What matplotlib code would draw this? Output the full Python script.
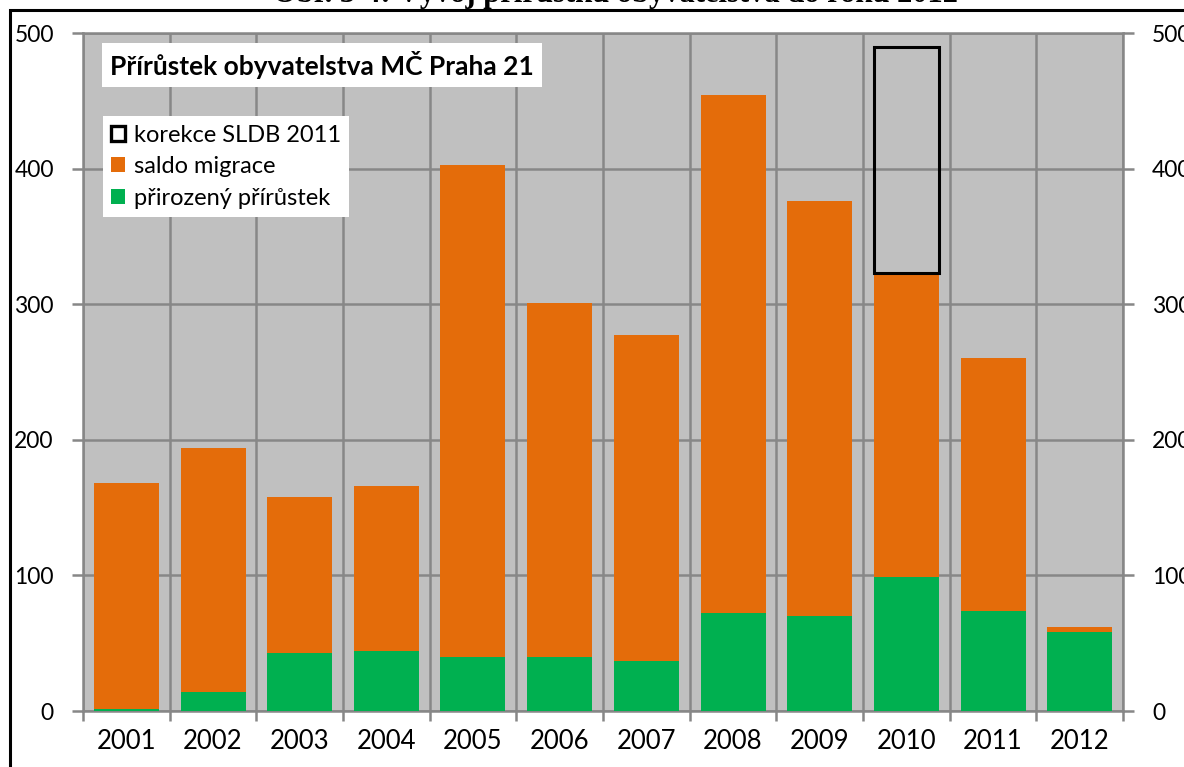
import matplotlib
matplotlib.use("Agg")
import matplotlib.pyplot as plt
from matplotlib.patches import Patch, Rectangle
import numpy as np

years = ["2001", "2002", "2003", "2004", "2005", "2006", "2007", "2008", "2009", "2010", "2011", "2012"]
natural = [1.5, 14, 43, 44, 40, 40, 37, 72, 70, 99, 74, 58]
migration = [167, 180, 115, 122, 363, 261, 240, 382, 306, 224, 186, 4]
correction = [0, 0, 0, 0, 0, 0, 0, 0, 0, 167, 0, 0]
yticks = [0, 100, 200, 300, 400, 500]

ORANGE = "#E46C0A"
GREEN = "#00B050"
GRID = "#878787"
BG = "#C0C0C0"

plt.rcParams['font.family'] = ['Lato', 'DejaVu Sans']

fig = plt.figure(figsize=(11.84, 7.67), dpi=100)
ax = fig.add_axes([83/1184, 1 - 711/767, (1123-83)/1184, (711-33)/767])
ax.set_facecolor(BG)

x = np.arange(len(years))
w = 0.75
nat = np.array(natural)
mig = np.array(migration)
cor = np.array(correction)
ax.bar(x, nat, width=w, color=GREEN, zorder=3)
ax.bar(x, mig, width=w, bottom=nat, color=ORANGE, zorder=3)
mask = cor > 0
ax.bar(x[mask], cor[mask], width=w, bottom=(nat + mig)[mask], facecolor='none',
       edgecolor='black', linewidth=2.2, zorder=4)

ax.set_xlim(-0.5, len(years) - 0.5)
ax.set_ylim(0, 500)
ax.set_yticks(yticks)
ax.set_xticks(x)
ax.set_xticklabels(years, fontsize=18.5)
ax.set_xticks(np.arange(-0.5, len(years), 1.0), minor=True)
ax.tick_params(axis='x', which='major', length=0, pad=13)
ax.tick_params(axis='x', which='minor', length=7, width=1.8, color=GRID, direction='out')
ax.tick_params(axis='y', which='major', length=8, width=1.8, color=GRID, direction='out',
               labelsize=16.5, left=True, right=True, labelleft=True, labelright=True, pad=13)
ax.grid(True, which='minor', axis='x', color=GRID, linewidth=1.8, zorder=1)
ax.grid(True, which='major', axis='y', color=GRID, linewidth=1.8, zorder=1)
ax.set_axisbelow(True)
for s in ax.spines.values():
    s.set_color(GRID)
    s.set_linewidth(1.8)

# title box inside plot
ax.text(0.026, 0.953, "Přírůstek obyvatelstva MČ Praha 21", transform=ax.transAxes,
        fontsize=19, fontweight='bold', va='center', ha='left', zorder=6,
        bbox=dict(facecolor='white', edgecolor='none', boxstyle='square,pad=0.3'))

handles = [Patch(facecolor='white', edgecolor='black', linewidth=2.4),
           Patch(facecolor=ORANGE, edgecolor='none'),
           Patch(facecolor=GREEN, edgecolor='none')]
labels = ["korekce SLDB 2011", "saldo migrace", "přirozený přírůstek"]
leg = ax.legend(handles, labels, loc='upper left', bbox_to_anchor=(0.0192, 0.877),
                frameon=True, fancybox=False, fontsize=17, handlelength=0.6,
                handleheight=0.6, handletextpad=0.35, labelspacing=0.45,
                borderpad=0.35, borderaxespad=0)
leg.get_frame().set_facecolor('white')
leg.get_frame().set_edgecolor('none')
leg.get_frame().set_alpha(1)
leg.set_zorder(6)

# outer frame
fig.patches.append(Rectangle((10/1184, -0.1), 1.2, 1 - 10/767 + 0.1, transform=fig.transFigure,
                             facecolor='none', edgecolor='black', linewidth=2.2))

# figure caption (cut off at top)
fig.text(615/1184, 1 - 2/767, "Obr. 3-4: Vývoj přírůstku obyvatelstva do roku 2012",
         ha='center', va='baseline', fontsize=22, fontweight='bold',
         family=['Liberation Serif', 'DejaVu Serif'])

fig.savefig("out.png", dpi=100)
